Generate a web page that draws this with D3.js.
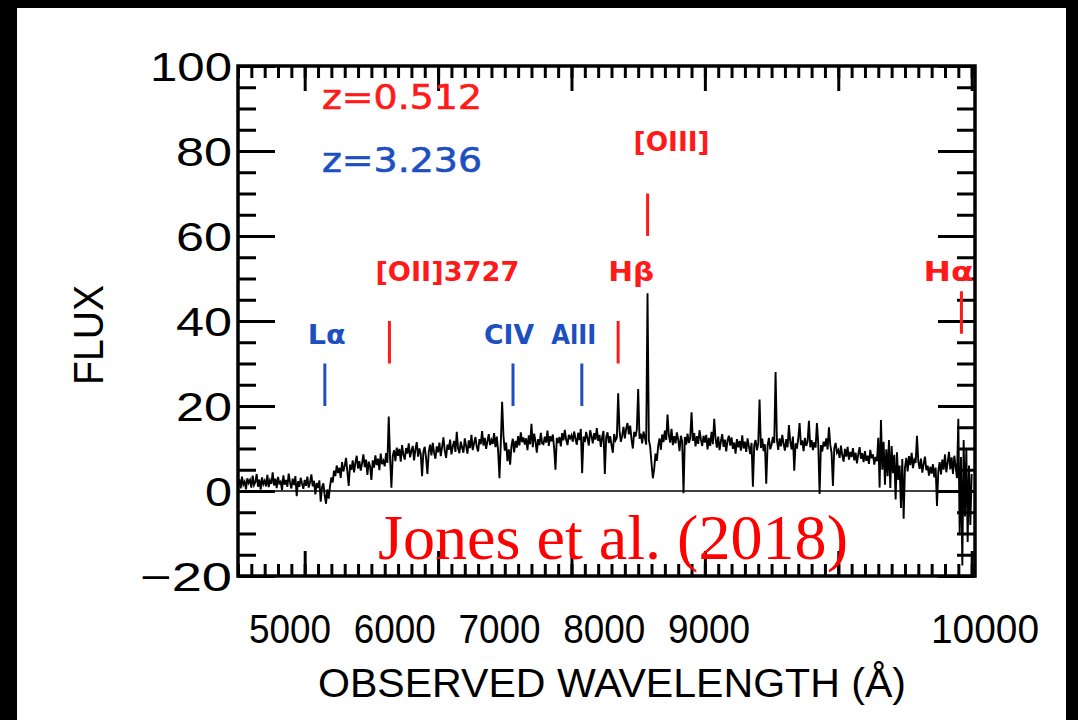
<!DOCTYPE html>
<html><head><meta charset="utf-8">
<script src="https://cdn.jsdelivr.net/npm/d3@7"></script>
<style>html,body{margin:0;padding:0;background:#000;} svg{display:block}</style>
</head><body><svg id="c" width="1078" height="720"></svg>
<script>
// ---------------- data ----------------
const waveStart = 4500, waveStep = 10;   // spectrum sampled every 10 Å, 50 samples per 500 Å block
const flux4500 = [1.2,2.8,0.6,3.4,1.5,2.2,0.4,3.0,1.9,2.6, 0.8,3.6,1.4,2.1,4.0,1.0,2.7,0.3,3.2,1.6, 2.4,1.1,3.8,0.9,2.5,1.7,4.4,1.3,2.9,0.7, 3.3,1.8,2.2,0.2,3.7,1.5,2.6,1.0,4.1,2.0, 0.6,2.9,1.4,3.5,-1.2,2.3,1.0,3.1,1.7,0.5];
const flux5000 = [2.6,1.2,3.4,0.8,2.0,3.9,1.1,2.4,-0.8,1.9, 0.7,2.5,-2.5,0.9,1.8,-1.0,-3.0,0.4,-1.8,1.2, 3.2,2.0,4.8,3.5,6.0,4.2,5.5,3.1,6.8,4.6, 5.9,7.8,4.5,1.2,6.2,5.0,7.2,4.4,6.6,8.3, 5.3,7.0,4.8,6.5,8.6,5.6,7.4,3.8,6.9,5.8];
const flux5500 = [2.6,7.2,5.5,8.4,6.1,7.6,4.9,8.8,6.3,7.1, 5.8,8.9,6.6,17.5,7.8,0.8,8.2,9.6,7.0,10.2, 8.3,9.9,6.9,10.8,8.5,7.4,10.1,8.8,11.2,7.9, 9.4,10.6,7.2,9.8,11.5,8.1,10.0,8.7,3.5,9.3, 10.4,7.7,4.0,9.2,10.9,8.4,11.3,9.0,7.6,10.5];
const flux6000 = [9.1,11.4,8.2,10.3,12.6,9.5,7.8,10.9,9.7,12.1, 8.6,10.5,11.8,9.2,13.9,10.0,8.9,11.6,10.2,9.0, 12.4,10.6,8.8,11.9,10.1,13.2,9.6,11.3,12.7,10.4, 9.3,12.2,11.0,14.1,10.7,12.5,9.9,11.7,13.4,10.8, 12.0,11.1,13.6,10.3,12.8,9.5,3.0,11.2,21.0,13.0];
const flux6500 = [9.5,11.4,7.0,9.8,6.2,10.6,12.3,9.1,11.8,10.2, 12.9,10.7,13.8,11.5,12.6,10.9,12.4,9.6,13.1,11.0, 15.8,10.3,13.5,11.8,9.0,12.2,10.8,13.7,11.2,11.0, 12.8,11.4,14.2,10.6,12.9,11.7,13.3,10.1,5.0,12.5, 11.3,12.7,10.5,13.6,11.9,14.4,12.1,10.8,13.2,12.4];
const flux7000 = [13.1,11.6,14.0,12.3,10.9,13.7,12.0,14.6,4.2,12.8, 11.5,13.9,12.4,10.7,14.3,12.9,11.2,13.6,12.1,14.8, 11.8,13.2,10.4,12.7,14.1,4.0,12.6,13.8,11.3,12.9, 10.8,9.0,13.4,11.9,12.5,23.0,14.2,11.6,13.0,15.1, 12.4,14.7,16.0,13.3,15.4,12.2,10.0,13.9,12.8,14.5];
const flux7500 = [24.0,12.3,13.5,11.2,14.0,12.6,10.9,46.5,12.0,10.4, 6.5,3.0,5.2,8.8,7.1,10.6,12.4,9.7,13.3,11.5, 14.2,12.0,18.0,13.1,11.4,14.6,10.8,12.9,11.2,13.8, 12.1,9.4,13.0,11.6,-0.5,12.7,10.9,13.5,11.3,12.4, 18.5,11.8,13.6,10.5,12.9,11.1,14.3,12.2,10.6,13.0];
const flux8000 = [11.4,13.2,9.8,12.5,10.6,13.9,11.0,17.0,12.3,10.2, 12.8,9.6,11.7,13.4,10.4,12.1,9.3,11.9,13.0,10.7, 12.6,9.9,11.4,8.8,12.2,10.3,11.8,9.5,13.1,10.0, 11.6,9.2,12.4,10.5,8.7,11.3,1.0,10.8,12.0,9.6, 11.2,21.5,10.1,12.3,9.4,11.0,1.7,10.6,12.5,9.8];
const flux8500 = [10.9,12.7,11.3,28.0,12.0,9.7,12.4,10.5,13.2,11.1, 9.5,12.2,10.3,15.5,11.6,9.8,12.8,4.8,11.2,10.0, 12.3,16.0,10.8,11.9,9.4,12.5,10.6,11.7,16.5,10.3, 12.0,9.6,11.5,10.2,16.0,11.1,-0.7,10.8,9.3,11.6, 10.5,12.4,9.8,15.0,10.9,8.9,1.2,10.1,11.3,9.0];
const flux9000 = [9.6,7.8,10.7,8.4,6.9,9.9,8.1,10.4,7.4,9.2, 8.0,10.1,7.2,9.0,6.5,8.7,10.3,7.6,8.9,6.8, 9.4,7.1,8.3,6.4,9.7,7.7,8.6,6.2,8.0,7.0, 12.5,0.8,16.7,5.0,11.6,1.5,9.8,3.5,12.0,0.7, 10.6,4.2,8.5,-2.0,9.1,2.6,6.0,-4.0,7.5,-6.5];
const flux9500 = [5.5,7.8,4.6,8.2,6.1,9.0,5.4,7.3,6.6,13.0, 6.9,5.2,7.6,4.3,6.4,8.1,4.9,6.0,3.6,5.7, 4.1,6.3,3.2,5.5,-3.5,4.6,6.8,3.9,7.4,5.0, 8.6,4.4,6.7,9.2,5.1,7.9,4.0,8.3,5.6,3.0, 17.0,-10.0,8.0,-17.5,12.0,-6.0,10.0,-12.0,6.0,-8.0, 4.0];

const xTicks = [5000, 6000, 7000, 8000, 9000, 10000];
const yTicks = [-20, 0, 20, 40, 60, 80, 100];

const redshiftLabels = ["z=0.512", "z=3.236"];
const redshifts = [0.512, 3.236];

const lineNames  = ["Lα", "[OII]3727", "CIV", "AlII", "Hβ", "[OIII]", "Hα"];
const lineRest   = [1216, 3727, 1549, 1670.8, 4861, 5007, 6563];
const lineSystem = [1, 0, 1, 1, 0, 0, 0];
const markLow    = [20, 30, 20, 20, 30, 60, 37];
const markHigh   = [30, 40, 30, 30, 40, 70, 47];
const labelFlux  = [34.5, 49.5, 34.5, 34.5, 49.5, 80, 49.5];

const credit = "Jones et al. (2018)";

// ---------------- drawing ----------------
const RED = "#ff1a1a", BLUE = "#1d4fc0";
const sysColor = [RED, BLUE];
const svg = d3.select("#c");
svg.append("rect").attr("x",0).attr("y",0).attr("width",1078).attr("height",720).attr("fill","#000");
svg.append("rect").attr("x",17).attr("y",8).attr("width",1049).attr("height",712).attr("fill","#fff");

const L = 238, R = 975, T = 66, B = 576;
const x = d3.scaleLinear().domain([4500, 10025]).range([L, R]);
const y = d3.scaleLinear().domain([-20, 100]).range([B, T]);

const flux = [].concat(flux4500, flux5000, flux5500, flux6000, flux6500, flux7000, flux7500, flux8000, flux8500, flux9000, flux9500);
const spec = flux.map((f, i) => ({w: waveStart + i * waveStep, f}));

svg.append("clipPath").attr("id","clip").append("rect").attr("x",L).attr("y",T).attr("width",R-L).attr("height",B-T);

// zero line
svg.append("line").attr("x1",L).attr("x2",R).attr("y1",y(0)).attr("y2",y(0)).attr("stroke","#000").attr("stroke-width",1.6);

// spectrum
const line = d3.line().x(d => x(d.w)).y(d => y(d.f));
svg.append("path").datum(spec).attr("d", line).attr("fill","none").attr("stroke","#000")
  .attr("stroke-width",1.9).attr("stroke-linejoin","miter").attr("clip-path","url(#clip)");

// axes
const fontAxis = "'Liberation Sans', Arial, sans-serif";
function styleAxis(g){ g.select(".domain").remove(); g.selectAll("line").attr("stroke","#000").attr("stroke-width",3); }
const minorY = d3.range(-20, 100.1, 5);
const minorX = d3.range(4500, 10001, 100);

svg.append("g").attr("transform",`translate(${L},0)`).call(d3.axisLeft(y).tickValues(minorY).tickSize(-18).tickFormat("")).call(styleAxis);
svg.append("g").attr("transform",`translate(${L},0)`).call(d3.axisLeft(y).tickValues(yTicks).tickSizeInner(-37).tickSizeOuter(0).tickPadding(6))
  .call(styleAxis).call(g => g.selectAll("text").attr("font-family",fontAxis).attr("font-size",40).attr("fill","#000").attr("dy","0.36em")
     .attr("textLength", d => d === 100 ? 82 : d === 0 ? 27 : d < 0 ? 92 : 56).attr("lengthAdjust","spacingAndGlyphs"));
svg.append("g").attr("transform",`translate(${R},0)`).call(d3.axisRight(y).tickValues(minorY).tickSize(-18).tickFormat("")).call(styleAxis);
svg.append("g").attr("transform",`translate(${R},0)`).call(d3.axisRight(y).tickValues(yTicks).tickSize(-37).tickFormat("")).call(styleAxis);
svg.append("g").attr("transform",`translate(0,${T})`).call(d3.axisTop(x).tickValues(minorX).tickSize(-12).tickFormat("")).call(styleAxis);
svg.append("g").attr("transform",`translate(0,${T})`).call(d3.axisTop(x).tickValues(xTicks).tickSize(-25).tickFormat("")).call(styleAxis);
svg.append("g").attr("transform",`translate(0,${B})`).call(d3.axisBottom(x).tickValues(minorX).tickSize(-12).tickFormat("")).call(styleAxis);
svg.append("g").attr("transform",`translate(0,${B})`).call(d3.axisBottom(x).tickValues(xTicks).tickSize(-25).tickFormat("")).call(styleAxis);

// frame
svg.append("rect").attr("x",L).attr("y",T).attr("width",R-L).attr("height",B-T).attr("fill","none").attr("stroke","#000").attr("stroke-width",3.5);

// x tick labels (placed as in the reference figure)
const labelX = d3.scaleLinear().domain([5000, 9000]).range([290, 709]);
svg.append("g").selectAll("text").data(xTicks).join("text")
  .attr("x", d => d === 10000 ? 985 : labelX(d)).attr("y", 643)
  .attr("text-anchor","middle").attr("font-family",fontAxis).attr("font-size",41).attr("fill","#000")
  .attr("textLength", d => d === 10000 ? 108 : 82).attr("lengthAdjust","spacingAndGlyphs")
  .text(d => d);

// axis titles
svg.append("text").attr("x",612).attr("y",697).attr("text-anchor","middle").attr("font-family",fontAxis)
  .attr("font-size",41).attr("textLength",588).attr("lengthAdjust","spacingAndGlyphs").text("OBSERVED WAVELENGTH (Å)");
svg.append("text").attr("transform","translate(103,335) rotate(-90)").attr("text-anchor","middle").attr("font-family",fontAxis)
  .attr("font-size",42).attr("textLength",100).attr("lengthAdjust","spacingAndGlyphs").text("FLUX");

// redshift labels
const fontAnn = "'DejaVu Sans', sans-serif";
svg.append("g").selectAll("text").data(redshiftLabels).join("text")
  .attr("x", 322).attr("y", (d,i) => i === 0 ? 109 : 172)
  .attr("font-family",fontAnn).attr("font-size",33).attr("font-weight",500).attr("fill",(d,i) => sysColor[i])
  .attr("stroke",(d,i) => sysColor[i]).attr("stroke-width",0.6)
  .attr("textLength",160).attr("lengthAdjust","spacingAndGlyphs").text(d => d);

// line markers
const lines = lineNames.map((n,i) => ({n, w: lineRest[i]*(1+redshifts[lineSystem[i]]), s: lineSystem[i], lo: markLow[i], hi: markHigh[i], lf: labelFlux[i]}));
svg.append("g").selectAll("line").data(lines).join("line")
  .attr("x1", d => x(d.w)).attr("x2", d => x(d.w)).attr("y1", d => y(d.lo)).attr("y2", d => y(d.hi))
  .attr("stroke", d => sysColor[d.s]).attr("stroke-width",3);
const labelDx = {"Lα": 2, "[OII]3727": 58, "CIV": -4, "AlII": -8, "Hβ": 13, "[OIII]": 24, "Hα": -13};
const labelW  = {"Lα": 38, "[OII]3727": 144, "CIV": 50, "AlII": 45, "Hβ": 46, "[OIII]": 76, "Hα": 50};
svg.append("g").selectAll("text").data(lines).join("text")
  .attr("x", d => x(d.w) + labelDx[d.n]).attr("y", d => y(d.lf))
  .attr("text-anchor","middle").attr("font-family",fontAnn).attr("font-weight","bold").attr("font-size",26)
  .attr("textLength", d => labelW[d.n]).attr("lengthAdjust","spacingAndGlyphs")
  .attr("fill", d => sysColor[d.s]).text(d => d.n);

// credit
svg.append("text").attr("x",378).attr("y",559).attr("font-family","'Liberation Serif', 'Times New Roman', serif")
  .attr("font-size",63).attr("fill","#ff0000").attr("textLength",470).attr("lengthAdjust","spacingAndGlyphs").text(credit);
</script></body></html>
